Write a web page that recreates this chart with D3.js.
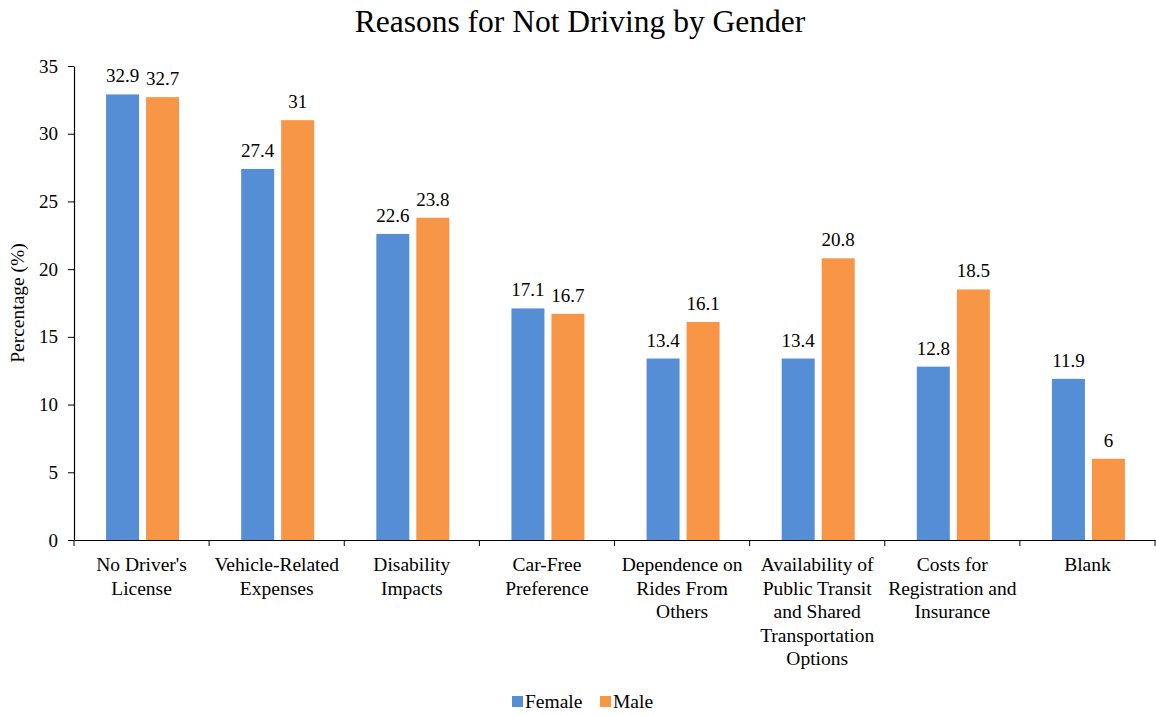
<!DOCTYPE html>
<html>
<head>
<meta charset="utf-8">
<script src="https://cdn.jsdelivr.net/npm/d3@7"></script>
<style>
  body { margin: 0; background: #fff; }
  svg text { font-family: "Liberation Serif", "Times New Roman", serif !important; fill: #000; }
</style>
</head>
<body>
<div id="chart"></div>
<script>
// data
var categories = [
  ["No Driver's", "License"],
  ["Vehicle-Related", "Expenses"],
  ["Disability", "Impacts"],
  ["Car-Free", "Preference"],
  ["Dependence on", "Rides From", "Others"],
  ["Availability of", "Public Transit", "and Shared", "Transportation", "Options"],
  ["Costs for", "Registration and", "Insurance"],
  ["Blank"]
];
var female = [32.9, 27.4, 22.6, 17.1, 13.4, 13.4, 12.8, 11.9];
var male = [32.7, 31, 23.8, 16.7, 16.1, 20.8, 18.5, 6];
var yTicks = [0, 5, 10, 15, 20, 25, 30, 35];
var seriesNames = ["Female", "Male"];
var colors = ["#558ed5", "#f79646"];

var width = 1156, height = 715;
var mLeft = 74, mRight = 1155, mTop = 66, mBottom = 540;
var serif = "'Liberation Serif', 'Times New Roman', serif";

var svg = d3.select("#chart").append("svg")
    .attr("width", width)
    .attr("height", height)
    .style("font-family", serif);

// title
svg.append("text")
    .attr("x", 580).attr("y", 32)
    .attr("text-anchor", "middle")
    .style("font-size", "31.5px")
    .text("Reasons for Not Driving by Gender");

var x = d3.scaleBand()
    .domain(d3.range(categories.length))
    .range([mLeft, mRight]);

var y = d3.scaleLinear()
    .domain([0, 35])
    .range([mBottom, mTop]);

// y axis
var yAxis = svg.append("g")
    .attr("transform", "translate(" + mLeft + ",0)")
    .call(d3.axisLeft(y).tickValues(yTicks).tickSize(6).tickSizeOuter(0).tickPadding(10));
yAxis.attr("font-family", null).attr("font-size", null);
yAxis.select(".domain").attr("stroke", "#000").attr("stroke-width", 1.2);
yAxis.selectAll(".tick line").attr("stroke", "#000");
yAxis.selectAll(".tick text")
    .style("font-size", "19px")
    .style("font-family", serif)
    .attr("fill", "#000");

// x axis
var xAxis = svg.append("g")
    .attr("transform", "translate(0," + mBottom + ")")
    .call(d3.axisBottom(x).tickSize(0).tickFormat(""));
xAxis.select(".domain").attr("stroke", "#000").attr("stroke-width", 1.2);
xAxis.selectAll(".tick").remove();

// category boundary ticks
svg.append("g").selectAll("line")
    .data(d3.range(categories.length + 1))
    .enter()
    .append("line")
    .attr("x1", function(d) { return d < categories.length ? x(d) : mRight; })
    .attr("x2", function(d) { return d < categories.length ? x(d) : mRight; })
    .attr("y1", mBottom)
    .attr("y2", mBottom + 6)
    .attr("stroke", "#000");

// category labels
var labels = svg.append("g").selectAll("text")
    .data(categories)
    .enter()
    .append("text")
    .attr("text-anchor", "middle")
    .style("font-family", serif)
    .style("font-size", "19.5px");
labels.each(function(d, i) {
  var t = d3.select(this);
  d.forEach(function(line, j) {
    t.append("tspan")
      .attr("x", x(i) + x.bandwidth() / 2)
      .attr("y", 571 + j * 23.6)
      .text(line);
  });
});

// y label
svg.append("text")
    .attr("transform", "translate(24," + ((mTop + mBottom) / 2) + ") rotate(-90)")
    .attr("text-anchor", "middle")
    .style("font-family", serif)
    .style("font-size", "19.5px")
    .text("Percentage (%)");

// bars
var barW = 33;
var series = [female, male];
var offsets = [-19, 21];

series.forEach(function(vals, s) {
  var g = svg.append("g");
  g.selectAll("rect")
    .data(vals)
    .enter()
    .append("rect")
    .attr("x", function(d, i) { return x(i) + x.bandwidth() / 2 + offsets[s] - barW / 2; })
    .attr("y", function(d) { return y(d); })
    .attr("width", barW)
    .attr("height", function(d) { return mBottom - y(d); })
    .attr("fill", colors[s]);

  g.selectAll("text")
    .data(vals)
    .enter()
    .append("text")
    .attr("x", function(d, i) { return x(i) + x.bandwidth() / 2 + offsets[s]; })
    .attr("y", function(d) { return y(d) - 12; })
    .attr("text-anchor", "middle")
    .style("font-family", serif)
    .style("font-size", "19px")
    .text(function(d) { return d; });
});

// legend
var legendX = [512, 600];
var legend = svg.append("g").selectAll("g")
    .data(seriesNames)
    .enter()
    .append("g")
    .attr("transform", function(d, i) { return "translate(" + legendX[i] + ",696)"; });
legend.append("rect")
    .attr("width", 11).attr("height", 11)
    .attr("fill", function(d, i) { return colors[i]; });
legend.append("text")
    .attr("x", 13).attr("y", 12)
    .style("font-family", serif)
    .style("font-size", "19.5px")
    .text(function(d) { return d; });
</script>
</body>
</html>
